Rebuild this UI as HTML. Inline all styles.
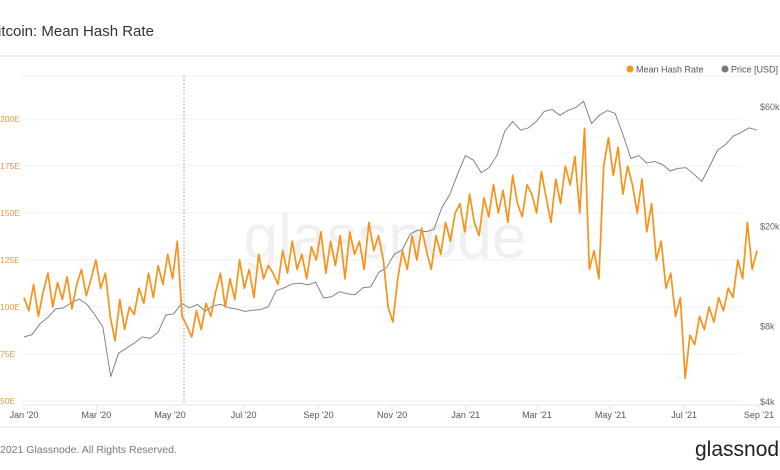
<!DOCTYPE html>
<html><head><meta charset="utf-8"><style>
body{margin:0;background:#fff;font-family:"Liberation Sans",sans-serif;}
#wrap{position:relative;width:780px;height:470px;overflow:hidden;}
</style></head><body>
<div id="wrap">
<svg id="svg" width="780" height="470" style="position:absolute;left:0;top:0">
<text x="-2" y="36" font-size="15" fill="#333">itcoin: Mean Hash Rate</text>
<line x1="0" y1="56" x2="780" y2="56" stroke="#eee" stroke-width="2"/>
<text x="385" y="258" font-size="62" fill="#f0f0f0" text-anchor="middle">glassnode</text>
<g id="grid"></g>
<line x1="184" y1="76" x2="184" y2="405" stroke="#999" stroke-dasharray="1.5,2"/>
<g id="price"></g><g id="hash"></g><g id="axes"></g>
<circle cx="630" cy="69" r="3.5" fill="#f7931a"/>
<text x="636" y="72.5" font-size="9" fill="#555">Mean Hash Rate</text>
<circle cx="725" cy="69" r="3.5" fill="#777"/>
<text x="731" y="72.5" font-size="9" fill="#555">Price [USD]</text>
<line x1="0" y1="427" x2="780" y2="427" stroke="#eee" stroke-width="1.5"/>
<text x="0" y="453" font-size="10.5" fill="#777">2021 Glassnode. All Rights Reserved.</text>
<text x="695" y="456" font-size="21" fill="#222">glassnode</text>
</svg>
</div>
<script>
const hashVals=[105,98,112,95,108,118,100,113,
104,116,99,112,120,106,115,
125,110,118,95,82,104,88,100,
96,110,102,118,105,122,112,
128,115,135,95,90,84,98,88,
102,95,108,118,100,115,104,
125,110,120,105,128,115,122,118,
112,130,118,135,120,128,115,132,
125,140,118,135,122,138,115,
140,128,135,120,145,130,138,125,
100,92,115,130,120,138,125,
142,130,120,138,128,145,135,150,
155,140,160,145,138,158,148,165,
150,162,145,170,155,148,165,
160,150,172,158,145,168,155,175,
165,180,150,195,120,130,115,175,
190,170,185,160,175,165,150,168,
140,155,125,135,110,118,95,105,
62,85,80,95,88,100,92,105,
98,110,105,125,115,145,120,130];
const priceVals=[7200,7350,8100,8600,9300,9400,9850,10200,9700,8800,7900,5000,6200,6500,6800,7200,7100,7500,8800,8900,9800,9400,9700,9100,9600,9700,9400,9300,9100,9200,9250,9500,11000,11300,11700,11800,11600,11900,10300,10400,10900,10700,10600,11300,11400,13000,13600,15400,16000,18500,19200,18900,19300,23500,26500,32000,38000,36500,32500,34000,38000,47500,52000,48000,49000,52000,57000,58000,55000,57500,59000,62500,51000,55000,57500,56000,46000,37000,38000,35500,36000,35000,33000,33800,34000,32000,30000,34500,40000,42000,45500,47000,49000,48000];
const hashTicks=[50,75,100,125,150,175,200];
const hashTickLabels=["50E","75E","100E","125E","150E","175E","200E"];
const priceTicks=[4000,8000,20000,60000];
const priceTickLabels=["$4k","$8k","$20k","$60k"];
const monthLabels=["Jan '20","Mar '20","May '20","Jul '20","Sep '20","Nov '20","Jan '21","Mar '21","May '21","Jul '21","Sep '21"];
const monthDays=[0,60,121,182,244,305,366,425,486,547,609];
const X0=24,X1=757,NS="http://www.w3.org/2000/svg";
const xDay=d=>24+d*(759-24)/609;
const yHash=v=>401-(v-50)*47/25;
const yPrice=p=>401-251*Math.log10(p/4000);
const xIdx=(i,n)=>X0+i*(X1-X0)/(n-1);
function mk(tag,attrs,parent){const e=document.createElementNS(NS,tag);for(const k in attrs)e.setAttribute(k,attrs[k]);document.getElementById(parent).appendChild(e);return e;}
hashTicks.forEach((v,i)=>{
 const g=mk('line',{x1:22,x2:742,y1:yHash(v),y2:yHash(v),stroke:'#f1f1f1'},'grid');
 
 
 const t=mk('text',{x:0,y:yHash(v)+3,'font-size':8.5,fill:'#e39a45'},'axes');t.textContent=hashTickLabels[i];
 
 
});
mk('line',{x1:22,x2:759,y1:76,y2:76,stroke:'#f1f1f1'},'grid');
const ax=mk('line',{x1:22,x2:759,y1:405,y2:405,stroke:'#e6e6e6'},'axes');


priceTicks.forEach((p,i)=>{
 const t=mk('text',{x:760,y:yPrice(p)+4,'font-size':9,fill:'#666'},'axes');t.textContent=priceTickLabels[i];
 
 
});
monthLabels.forEach((m,i)=>{
 const x=xDay(monthDays[i]);
 mk('line',{x1:x,x2:x,y1:405,y2:410,stroke:'#e6e6e6'},'axes');
 const t=mk('text',{x:x,y:418,'font-size':9,fill:'#555','text-anchor':'middle'},'axes');t.textContent=m;
 
 
});
const pp=mk('polyline',{points:priceVals.map((p,i)=>xIdx(i,priceVals.length)+','+yPrice(p)).join(' '),fill:'none',stroke:'#777','stroke-width':0.9},'price');


const hp=mk('polyline',{points:hashVals.map((v,i)=>xIdx(i,hashVals.length)+','+yHash(v)).join(' '),fill:'none',stroke:'#f7931a','stroke-width':1.7,'stroke-linejoin':'round'},'hash');


</script>
</body></html>
